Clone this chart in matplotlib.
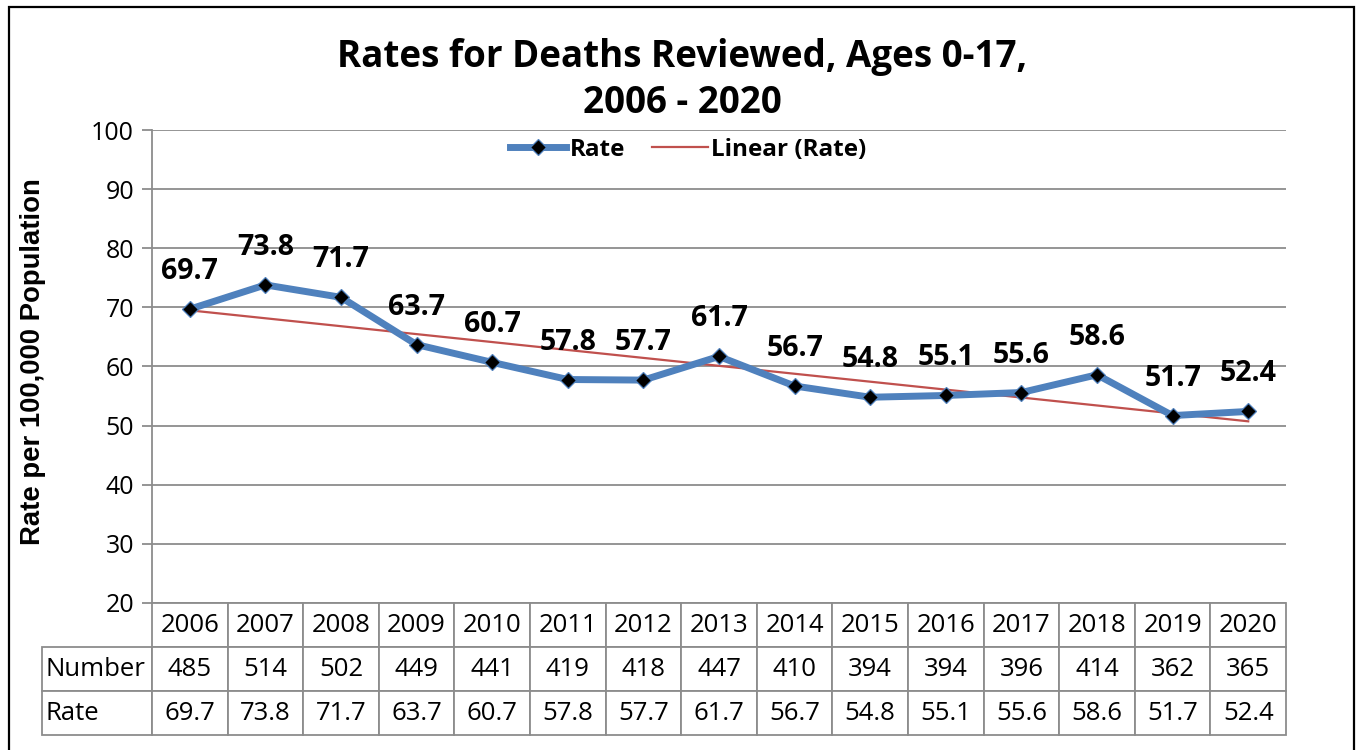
import numpy as np
import matplotlib
matplotlib.use('Agg')
import matplotlib.pyplot as plt
from matplotlib.patches import Rectangle

years = ['2006', '2007', '2008', '2009', '2010', '2011', '2012', '2013',
         '2014', '2015', '2016', '2017', '2018', '2019', '2020']
numbers = [485, 514, 502, 449, 441, 419, 418, 447, 410, 394, 394, 396, 414, 362, 365]
rates = [69.7, 73.8, 71.7, 63.7, 60.7, 57.8, 57.7, 61.7, 56.7, 54.8, 55.1, 55.6, 58.6, 51.7, 52.4]

plt.rcParams['font.family'] = ['Open Sans', 'DejaVu Sans']

fig = plt.figure(figsize=(13.56, 7.5), dpi=100)
W, H = 1356, 750
ax = fig.add_axes([152 / W, (H - 603) / H, 1134 / W, 473 / H])

x = np.arange(len(years))
grid_c = '#8c8c8c'

# trend line (Excel style linear fit)
slope, intercept = np.polyfit(x, rates, 1)
ax.plot(x, slope * x + intercept, color='#c0504d', lw=1.6, label='Linear (Rate)', zorder=2)
ax.plot(x, rates, color='#4f81bd', lw=5, marker='D', markersize=8.5,
        markerfacecolor='black', markeredgecolor='#4f81bd', markeredgewidth=0.9,
        label='Rate', zorder=3)

for xi, r in zip(x, rates):
    ax.annotate(f'{r:.1f}', (xi, r), xytext=(0, 27), textcoords='offset points',
                ha='center', va='center', fontsize=20.5, fontweight='bold', zorder=4)

ax.set_xlim(-0.5, len(years) - 0.5)
ax.set_ylim(20, 100)
ax.set_yticks(range(20, 101, 10))
ax.yaxis.grid(True, color=grid_c, lw=1.3)
ax.set_axisbelow(True)
ax.set_xticks([])
for s in ['top', 'right', 'bottom']:
    ax.spines[s].set_visible(False)
ax.spines['left'].set_color(grid_c)
ax.spines['left'].set_linewidth(1.3)
ax.tick_params(axis='y', length=7, width=1.3, color=grid_c, labelsize=18, pad=6)

handles, labels = ax.get_legend_handles_labels()
leg = ax.legend(handles[::-1], labels[::-1], loc='center', bbox_to_anchor=(0.473, 0.958),
                ncol=2, frameon=False, handlelength=2.3, columnspacing=1.1,
                handletextpad=0.15, prop={'size': 17.5, 'weight': 'bold'})

# data table below the axis
cell_text = [[''] + years,
             ['Number'] + [str(n) for n in numbers],
             ['Rate'] + [f'{r:.1f}' for r in rates]]
lab_w = 110
col_w = 1134 / len(years)
tot_w = lab_w + col_w * len(years)
tbl = ax.table(cellText=cell_text, colWidths=[lab_w / tot_w] + [col_w / tot_w] * len(years),
               bbox=[-lab_w / 1134, -132 / 473, tot_w / 1134, 132 / 473],
               cellLoc='center')
tbl.auto_set_font_size(False)
for (r, c), cell in tbl.get_celld().items():
    cell.set_edgecolor(grid_c)
    cell.set_linewidth(1.3)
    cell.get_text().set_fontsize(18.5)
    if c == 0:
        cell.get_text().set_ha('left')
        cell.PAD = 0.03
    if r == 0 and c == 0:
        cell.visible_edges = ''

fig.text(682 / W, 1 - 80 / H, 'Rates for Deaths Reviewed, Ages 0-17,\n2006 - 2020',
         ha='center', va='center', fontsize=26.5, fontweight='bold', linespacing=1.3)
fig.text(33 / W, 1 - 362 / H, 'Rate per 100,000 Population', rotation=90,
         ha='center', va='center', fontsize=19.8, fontweight='bold',
         family=['Liberation Sans', 'DejaVu Sans'])

fig.patches.append(Rectangle((9 / W, -0.05), 1345 / W, 1.05 - 7 / H, transform=fig.transFigure,
                             fill=False, edgecolor='black', lw=1.6))

fig.savefig('out.png', dpi=100)
